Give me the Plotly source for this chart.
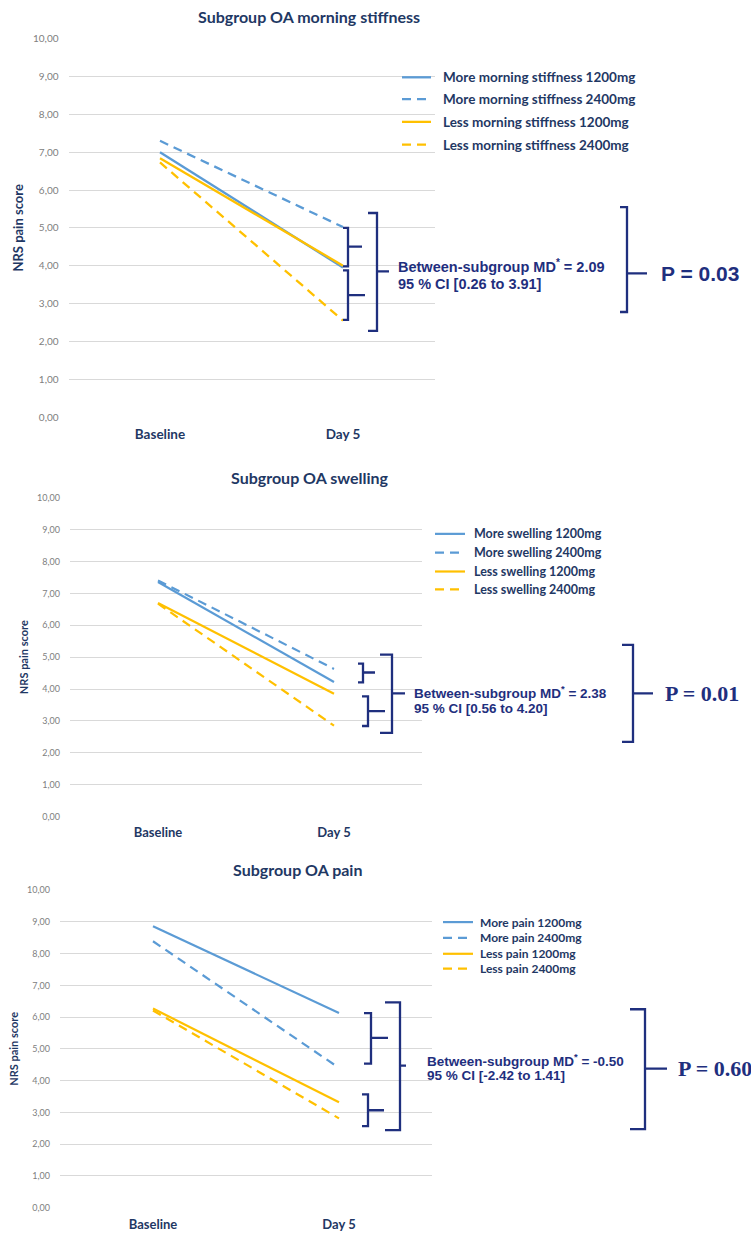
import plotly.graph_objects as go

W, H = 751, 1246

categories = ["Baseline", "Day 5"]
y_tickvals = [0, 1, 2, 3, 4, 5, 6, 7, 8, 9, 10]
y_ticktext = ["0,00", "1,00", "2,00", "3,00", "4,00", "5,00", "6,00", "7,00", "8,00", "9,00", "10,00"]

titles = ["Subgroup OA morning stiffness", "Subgroup OA swelling", "Subgroup OA pain"]

stiff_names = ["More morning stiffness 1200mg", "More morning stiffness 2400mg",
               "Less morning stiffness 1200mg", "Less morning stiffness 2400mg"]
stiff_more_1200 = [7.00, 3.95]
stiff_more_2400 = [7.30, 5.02]
stiff_less_1200 = [6.84, 4.00]
stiff_less_2400 = [6.73, 2.55]

swell_names = ["More swelling 1200mg", "More swelling 2400mg",
               "Less swelling 1200mg", "Less swelling 2400mg"]
swell_more_1200 = [7.36, 4.22]
swell_more_2400 = [7.41, 4.63]
swell_less_1200 = [6.70, 3.85]
swell_less_2400 = [6.68, 2.85]

pain_names = ["More pain 1200mg", "More pain 2400mg", "Less pain 1200mg", "Less pain 2400mg"]
pain_more_1200 = [8.86, 6.13]
pain_more_2400 = [8.39, 4.40]
pain_less_1200 = [6.27, 3.32]
pain_less_2400 = [6.21, 2.81]

md_line1 = ["Between-subgroup MD<sup>*</sup> = 2.09",
            "Between-subgroup MD<sup>*</sup> = 2.38",
            "Between-subgroup MD<sup>*</sup> = -0.50"]
md_line2 = ["95 % CI [0.26 to 3.91]", "95 % CI [0.56 to 4.20]", "95 % CI [-2.42 to 1.41]"]
p_texts = ["P = 0.03", "P = 0.01", "P = 0.60"]

BLUE = "#5B9BD5"
YEL = "#FFC000"
NAVY = "#1F3864"
BR = "#1F2F7E"


def fx(x):
    return x / W


def fy(y):
    return 1 - y / H


panels = [
    dict(series=[stiff_more_1200, stiff_more_2400, stiff_less_1200, stiff_less_2400], names=stiff_names,
         xd=(68.5, 434.5), yd=(33, 415), tick_size=10, cat_size=13.5, ytitle_size=13, title_y=11, title_x=309,
         title_size=16, width=2.3,
         leg=dict(x0=402, x1=431, tx=441, ys=[72, 94, 117, 140], size=13.5)),
    dict(series=[swell_more_1200, swell_more_2400, swell_less_1200, swell_less_2400], names=swell_names,
         xd=(70, 422), yd=(496.7, 818.3), tick_size=9, cat_size=13, ytitle_size=11, title_y=476, title_x=309,
         title_size=16, width=2.2,
         leg=dict(x0=435, x1=465, tx=472, ys=[533, 552, 571, 589], size=12.5)),
    dict(series=[pain_more_1200, pain_more_2400, pain_less_1200, pain_less_2400], names=pain_names,
         xd=(60, 432), yd=(892.7, 1213.3), tick_size=9, cat_size=13, ytitle_size=11, title_y=872, title_x=297,
         title_size=16, width=2.2,
         leg=dict(x0=443, x1=473, tx=478, ys=[925, 941, 957, 972], size=12)),
]

styles = [(BLUE, "solid"), (BLUE, "9px,6px"), (YEL, "solid"), (YEL, "9px,6px")]

fig = go.Figure()
annotations = []
shapes = []

for i, p in enumerate(panels):
    k = "" if i == 0 else str(i + 1)
    leg = p["leg"]
    for j, (vals, name) in enumerate(zip(p["series"], p["names"])):
        c, d = styles[j]
        fig.add_trace(go.Scatter(
            x=categories, y=vals, mode="lines", name=name,
            line=dict(color=c, width=p["width"], dash=d),
            xaxis="x" + k, yaxis="y" + k, showlegend=False, hoverinfo="skip"))
        # legend entry (sample line + label)
        yy = leg["ys"][j]
        shapes.append(dict(type="line", xref="paper", yref="paper",
                           x0=fx(leg["x0"]), x1=fx(leg["x1"]), y0=fy(yy), y1=fy(yy),
                           line=dict(color=c, width=p["width"], dash=d)))
        annotations.append(dict(text=name, x=fx(leg["tx"]), y=fy(yy), xref="paper", yref="paper",
                                xanchor="left", yanchor="middle", showarrow=False,
                                font=dict(family="Lato", size=leg["size"], color=NAVY, weight="bold")))
    fig.layout["xaxis" + k] = dict(
        domain=[fx(p["xd"][0]), fx(p["xd"][1])], anchor="y" + k, type="category",
        range=[-0.5, 1.5], showgrid=False, showline=False, zeroline=False,
        tickfont=dict(family="Lato", size=p["cat_size"], color=NAVY, weight="bold"),
        ticklabelstandoff=7)
    fig.layout["yaxis" + k] = dict(
        domain=[fy(p["yd"][1]), fy(p["yd"][0])], anchor="x" + k, range=[0, 10],
        tickvals=y_tickvals, ticktext=y_ticktext, showgrid=True, gridcolor="#D9D9D9", gridwidth=1,
        zeroline=False, showline=False,
        tickfont=dict(family="Lato", size=p["tick_size"], color="#808080"),
        ticklabelstandoff=9,
        title=dict(text="NRS pain score", standoff=6,
                   font=dict(family="Lato", size=p["ytitle_size"], color=NAVY, weight="bold")))
    annotations.append(dict(
        text=titles[i], x=fx(p["title_x"]), y=fy(p["title_y"]), xref="paper", yref="paper",
        xanchor="center", yanchor="middle", showarrow=False,
        font=dict(family="Lato", size=p["title_size"], color=NAVY, weight="bold")))


def bracket(x_left, x_v, y_top, y_bot, y_mid, x_tip, w=2.3):
    path = (f"M {fx(x_left)},{fy(y_top)} L {fx(x_v)},{fy(y_top)} L {fx(x_v)},{fy(y_bot)} "
            f"L {fx(x_left)},{fy(y_bot)} M {fx(x_v)},{fy(y_mid)} L {fx(x_tip)},{fy(y_mid)}")
    shapes.append(dict(type="path", path=path, xref="paper", yref="paper",
                       line=dict(color=BR, width=w)))


# panel 1 brackets
bracket(343, 348, 224, 263, 243, 362)
bracket(343, 348, 267, 317, 292, 365)
bracket(368, 377, 209, 328, 268, 389)
bracket(620, 627, 203, 309, 270, 647)
# panel 2 brackets
bracket(358, 363, 664, 683, 673, 375)
bracket(362, 368, 697, 727, 712, 385)
bracket(380, 392, 655, 734, 694, 405)
bracket(622, 633, 645, 743, 694, 653)
# panel 3 brackets
bracket(364, 371, 1017, 1068, 1042, 388)
bracket(362, 368, 1099, 1131, 1115, 384)
bracket(385, 400, 1006, 1135, 1070, 406)
bracket(630, 645, 1013, 1134, 1073, 667)

md_pos = [(396, 263, 281, 14.5), (412, 693, 709, 13.5), (425, 1064, 1080, 13.5)]
for (x, y1, y2, s), t1, t2 in zip(md_pos, md_line1, md_line2):
    for yy, t in ((y1, t1), (y2, t2)):
        annotations.append(dict(text=t, x=fx(x), y=fy(yy), xref="paper", yref="paper", xanchor="left",
                                yanchor="middle", align="left", showarrow=False,
                                font=dict(family="Liberation Sans", size=s, color=BR, weight="bold")))

p_pos = [(659, 270, "Liberation Sans", 21), (663, 694, "Liberation Serif", 22), (676, 1073, "Liberation Serif", 22)]
for (x, y, fam, s), t in zip(p_pos, p_texts):
    annotations.append(dict(text=t, x=fx(x), y=fy(y), xref="paper", yref="paper", xanchor="left",
                            yanchor="middle", showarrow=False,
                            font=dict(family=fam, size=s, color=BR, weight="bold")))

fig.update_layout(width=W, height=H, margin=dict(l=0, r=0, t=0, b=0),
                  paper_bgcolor="white", plot_bgcolor="white", showlegend=False,
                  annotations=annotations, shapes=shapes, hovermode=False)

fig.write_html("out.html")
